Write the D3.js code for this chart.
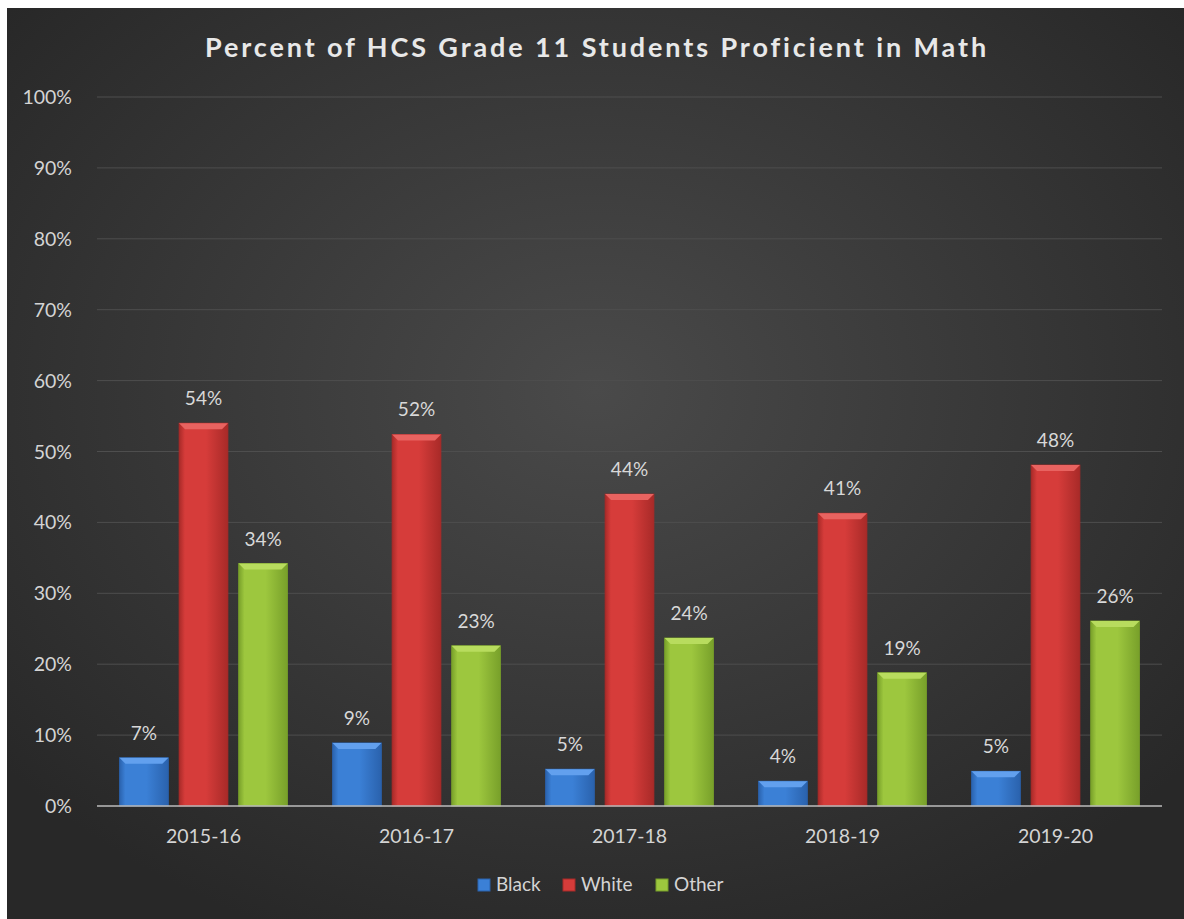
<!DOCTYPE html>
<html>
<head>
<meta charset="utf-8">
<script src="https://cdn.jsdelivr.net/npm/d3@7"></script>
<style>
  body { margin: 0; background: #fff; }
  svg { display: block; }
  text { font-family: Lato, "Open Sans", sans-serif; }
</style>
</head>
<body>
<div id="viz"></div>
<script>
var years = ["2015-16", "2016-17", "2017-18", "2018-19", "2019-20"];
var groups = ["Black", "White", "Other"];
var black = [6.8, 8.9, 5.2, 3.5, 4.9];
var white = [54.0, 52.4, 44.0, 41.3, 48.1];
var other = [34.2, 22.6, 23.7, 18.8, 26.1];
var blackLabels = ["7%", "9%", "5%", "4%", "5%"];
var whiteLabels = ["54%", "52%", "44%", "41%", "48%"];
var otherLabels = ["34%", "23%", "24%", "19%", "26%"];
var yTicks = [0, 10, 20, 30, 40, 50, 60, 70, 80, 90, 100];

var width = 1184,
    height = 919;

var series = [
  { name: "Black", values: black, labels: blackLabels, color: "#3b80d6", light: "#62a0ee", dark: "#2a62ad" },
  { name: "White", values: white, labels: whiteLabels, color: "#d63c3a", light: "#e86360", dark: "#a82a28" },
  { name: "Other", values: other, labels: otherLabels, color: "#9dc73e", light: "#b8dc5e", dark: "#78a02a" }
];

var svg = d3.select("#viz").append("svg")
  .attr("width", width)
  .attr("height", height);

var defs = svg.append("defs");
var bg = defs.append("radialGradient").attr("id", "bg")
  .attr("cx", "50%").attr("cy", "42%").attr("r", "65%");
bg.append("stop").attr("offset", "0%").attr("stop-color", "#4a4a4a");
bg.append("stop").attr("offset", "100%").attr("stop-color", "#282828");

series.forEach(function(s) {
  var g = defs.append("linearGradient").attr("id", "g" + s.name)
    .attr("x1", "0").attr("x2", "1").attr("y1", "0").attr("y2", "0");
  g.append("stop").attr("offset", "0%").attr("stop-color", s.dark);
  g.append("stop").attr("offset", "12%").attr("stop-color", s.color);
  g.append("stop").attr("offset", "55%").attr("stop-color", s.color);
  g.append("stop").attr("offset", "100%").attr("stop-color", s.dark);
});

svg.append("rect")
  .attr("x", 7).attr("y", 8)
  .attr("width", width - 7).attr("height", height - 8)
  .attr("fill", "url(#bg)");

svg.append("text")
  .attr("x", 597).attr("y", 57)
  .attr("text-anchor", "middle")
  .attr("font-size", 27).attr("font-weight", "bold")
  .attr("letter-spacing", 2.9)
  .attr("fill", "#e8e8e8")
  .text("Percent of HCS Grade 11 Students Proficient in Math");

var margin = { left: 97, right: 22, top: 97, bottom: 113 };

var x = d3.scaleBand()
  .domain(years)
  .range([margin.left, width - margin.right]);

var x1 = d3.scaleBand()
  .domain(groups)
  .range([0, 168])
  .paddingInner(0.18);

var y = d3.scaleLinear()
  .domain([0, 100])
  .range([height - margin.bottom, margin.top]);

// grid
svg.append("g").selectAll("line")
  .data(yTicks.slice(1))
  .enter().append("line")
    .attr("x1", margin.left).attr("x2", width - margin.right)
    .attr("y1", function(d) { return y(d); })
    .attr("y2", function(d) { return y(d); })
    .attr("stroke", "#4e4e4e").attr("stroke-width", 1);

svg.append("g").selectAll("text")
  .data(yTicks)
  .enter().append("text")
    .attr("x", 72)
    .attr("y", function(d) { return y(d) + 7; })
    .attr("text-anchor", "end")
    .attr("font-size", 19.5)
    .attr("fill", "#d4d4d4")
    .text(function(d) { return d + "%"; });

// bars
var offset = (x.bandwidth() - 168) / 2;
series.forEach(function(s) {
  var gs = svg.append("g");
  var bw = x1.bandwidth();
  var bars = gs.selectAll("g")
    .data(years.map(function(yr, i) { return { year: yr, v: s.values[i], label: s.labels[i] }; }))
    .enter().append("g");

  bars.append("rect")
    .attr("x", function(d) { return x(d.year) + offset + x1(s.name); })
    .attr("y", function(d) { return y(d.v); })
    .attr("width", bw)
    .attr("height", function(d) { return y(0) - y(d.v); })
    .attr("fill", "url(#g" + s.name + ")")
    .attr("stroke", s.dark).attr("stroke-width", 0.8);

  // top bevel
  bars.append("path")
    .attr("d", function(d) {
      var x0 = x(d.year) + offset + x1(s.name), t = y(d.v), b = 6;
      return "M" + x0 + "," + t + "L" + (x0 + bw) + "," + t +
        "L" + (x0 + bw - b) + "," + (t + b) + "L" + (x0 + b) + "," + (t + b) + "Z";
    })
    .attr("fill", s.light);

  bars.append("text")
    .attr("x", function(d) { return x(d.year) + offset + x1(s.name) + bw / 2; })
    .attr("y", function(d) { return y(d.v) - 18; })
    .attr("text-anchor", "middle")
    .attr("font-size", 19)
    .attr("fill", "#d8d8d8")
    .text(function(d) { return d.label; });
});

// baseline
svg.append("line")
  .attr("x1", margin.left).attr("x2", width - margin.right)
  .attr("y1", y(0)).attr("y2", y(0))
  .attr("stroke", "#bdbdbd").attr("stroke-width", 1.5);

svg.append("g").selectAll("text")
  .data(years)
  .enter().append("text")
    .attr("x", function(d) { return x(d) + x.bandwidth() / 2; })
    .attr("y", 843)
    .attr("text-anchor", "middle")
    .attr("font-size", 19.5)
    .attr("fill", "#d4d4d4")
    .text(function(d) { return d; });

// legend
var legendX = [478, 563, 656];
var legend = svg.append("g").selectAll("g")
  .data(series)
  .enter().append("g")
    .attr("transform", function(d, i) { return "translate(" + legendX[i] + ",885)"; });
legend.append("rect")
  .attr("x", 0).attr("y", -6).attr("width", 12).attr("height", 12)
  .attr("fill", function(d) { return d.color; })
  .attr("stroke", function(d) { return d.dark; });
legend.append("text")
  .attr("x", 18).attr("y", 6)
  .attr("font-size", 19)
  .attr("fill", "#d4d4d4")
  .text(function(d) { return d.name; });
</script>
</body>
</html>
